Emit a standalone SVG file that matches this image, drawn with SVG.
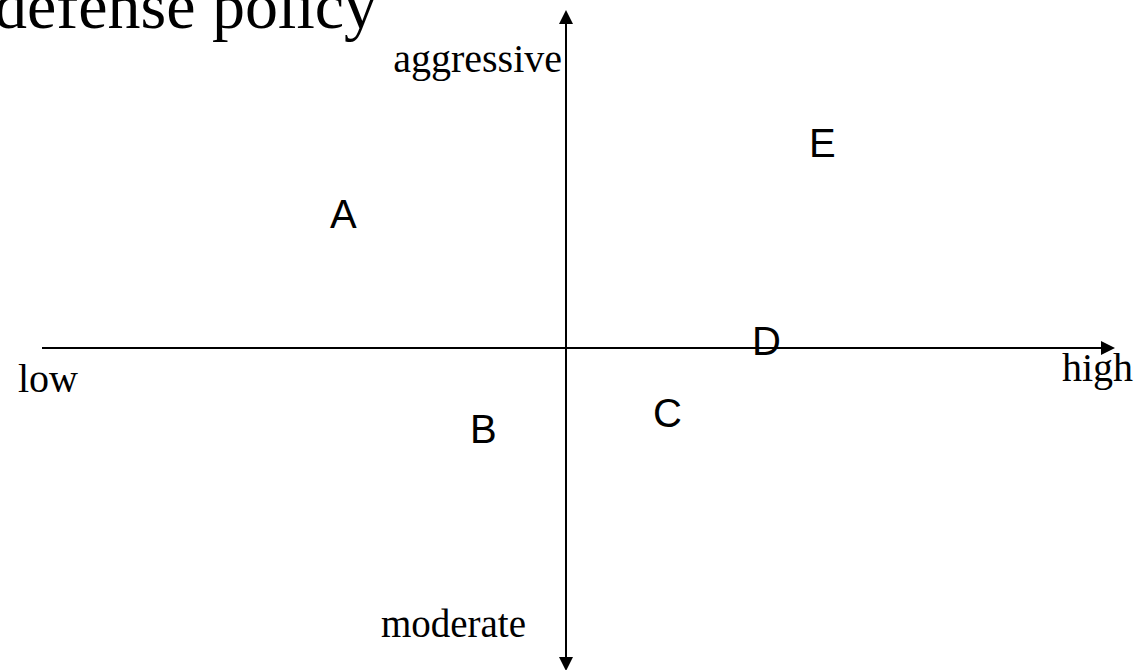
<svg xmlns="http://www.w3.org/2000/svg" width="1142" height="670" viewBox="0 0 1142 670">
<style>
.serif{font-family:"Liberation Serif","Times New Roman",serif;fill:#000}
.lbl{font-family:"Liberation Sans",Arial,sans-serif;font-size:40px;fill:#000}
.axis{stroke:#000;stroke-width:2;fill:none}
</style>
<defs>
<marker id="arr" viewBox="0 0 10 10" refX="0" refY="5" markerWidth="15" markerHeight="14" markerUnits="userSpaceOnUse" orient="auto">
<path d="M0,0 L10,5 L0,10 Z" fill="#000"/>
</marker>
</defs>
<rect width="1142" height="670" fill="#fff"/>
<text class="serif" x="-6" y="28" font-size="66">defense policy</text>
<g id="connectors">
<line class="axis" x1="566" y1="657" x2="566" y2="24" marker-end="url(#arr)"/>
<line class="axis" x1="566" y1="24" x2="566" y2="657" marker-end="url(#arr)"/>
<line class="axis" x1="42" y1="348" x2="1101" y2="348" marker-end="url(#arr)"/>
</g>
<text class="serif" x="562" y="72" font-size="40" text-anchor="end">aggressive</text>
<text class="serif" x="18" y="392" font-size="40">low</text>
<text class="serif" x="1062" y="381" font-size="40">high</text>
<text class="serif" x="526" y="637" font-size="39" text-anchor="end">moderate</text>
<g id="A"><text class="lbl" x="330" y="228">A</text></g>
<g id="B"><text class="lbl" x="470" y="443">B</text></g>
<g id="C"><text class="lbl" x="653" y="427">C</text></g>
<g id="D"><text class="lbl" x="752" y="355">D</text></g>
<g id="E"><text class="lbl" x="809" y="157">E</text></g>
</svg>
